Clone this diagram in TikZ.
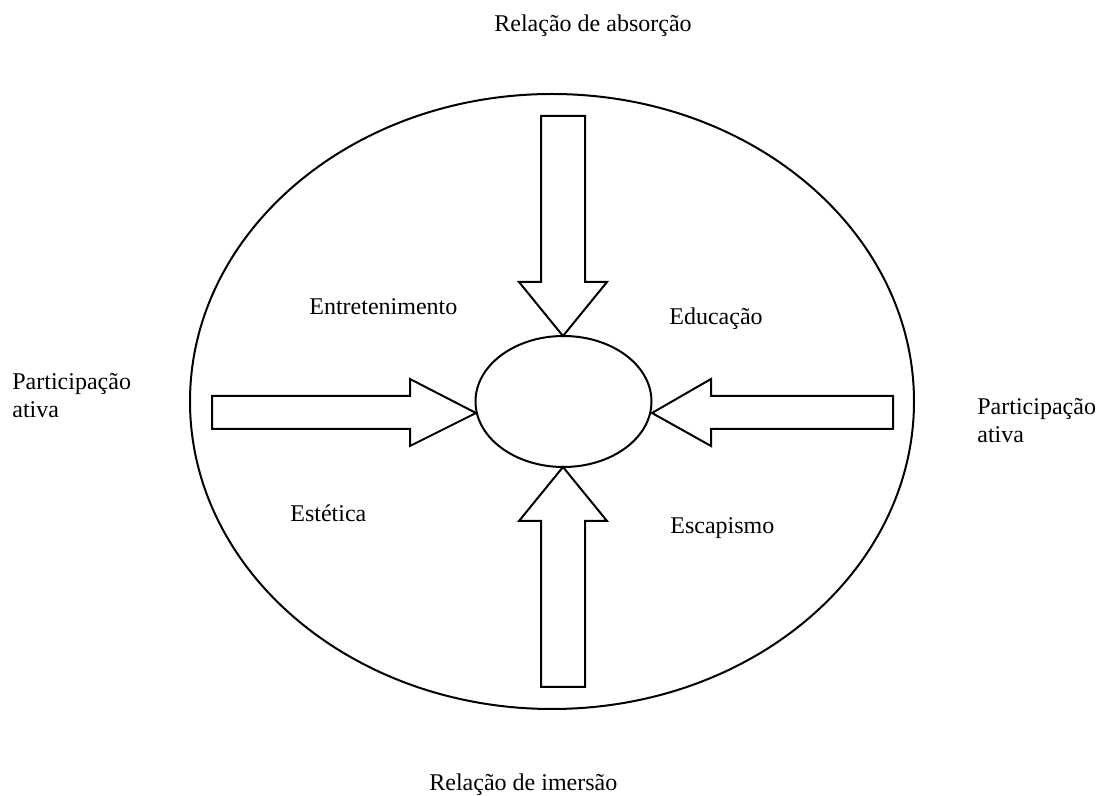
\documentclass[tikz,border=0pt]{standalone}
\usepackage{fontspec}
\setmainfont{Liberation Serif}
\usetikzlibrary{shapes.geometric}
\begin{document}
\begin{tikzpicture}[x=0.5pt,y=-0.5pt,
  line/.style={draw=black,line width=1pt},
  blockarrow/.style={line,fill=white,line join=miter},
  lbl/.style={font=\fontsize{12pt}{14pt}\selectfont,inner sep=0pt,anchor=base west}]
\useasboundingbox[fill=white] (0,0) rectangle (1100,796);
% outer and inner ellipses (sizes in pt: one unit is half a point)
\node[line,ellipse,minimum width=362pt,minimum height=307.5pt,inner sep=0pt] (frame) at (552,401.5) {};
\node[line,ellipse,minimum width=88pt,minimum height=65.5pt,inner sep=0pt] (core) at (563.5,401.5) {};
% four block arrows pointing at the centre
\draw[blockarrow] (541,116) -- (585,116) -- (585,282) -- (607,282) -- (563,336) coordinate (ttip)
  -- (519,282) -- (541,282) -- cycle;
\draw[blockarrow] (541,687) -- (585,687) -- (585,521) -- (607,521) -- (563,467) coordinate (btip)
  -- (519,521) -- (541,521) -- cycle;
\draw[blockarrow] (212,396) -- (410,396) -- (410,379) -- (476,413) coordinate (ltip)
  -- (410,446) -- (410,429) -- (212,429) -- cycle;
\draw[blockarrow] (893,396) -- (711,396) -- (711,379) -- (652,413) coordinate (rtip)
  -- (711,446) -- (711,429) -- (893,429) -- cycle;
% axis labels
\node[lbl] (top) at (494,32) {Relação de absorção};
\node[lbl] (bottom) at (429,791) {Relação de imersão};
\node[lbl] (left1) at (12,390) {Participação};
\node[lbl] (left2) at (12,418) {ativa};
\node[lbl] (right1) at (977,415) {Participação};
\node[lbl] (right2) at (977,443) {ativa};
% quadrant labels
\node[lbl] (q1) at (309,315) {Entretenimento};
\node[lbl] (q2) at (669,325) {Educação};
\node[lbl] (q3) at (290,522) {Estética};
\node[lbl] (q4) at (670,534) {Escapismo};
\end{tikzpicture}
\end{document}
